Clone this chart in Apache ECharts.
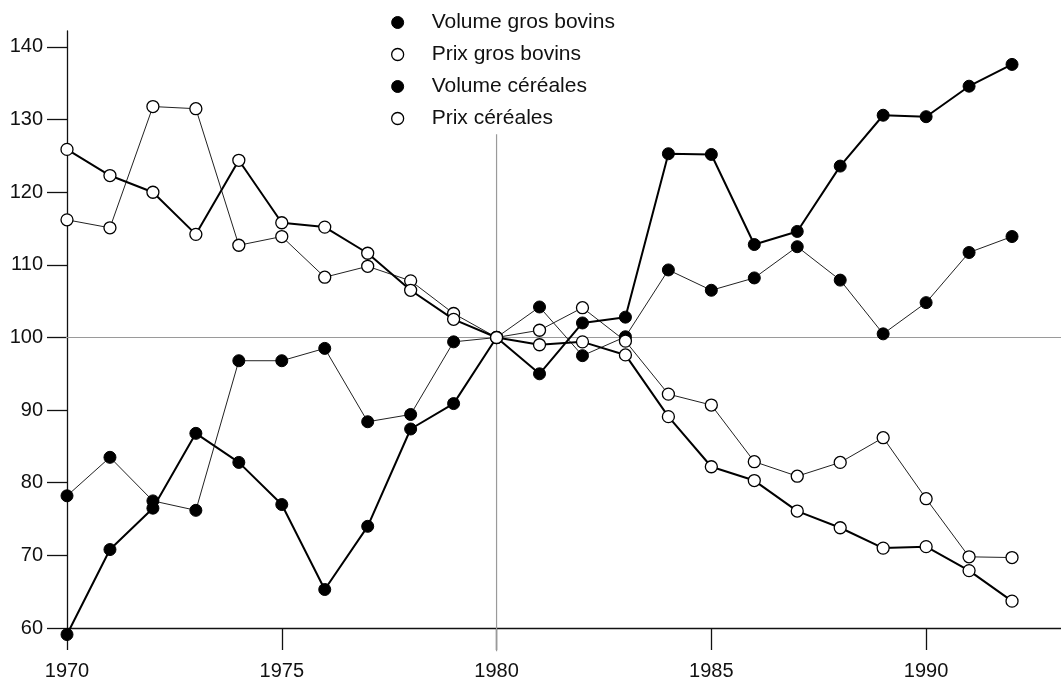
<!DOCTYPE html>
<html>
<head>
<meta charset="utf-8">
<script src="https://cdn.jsdelivr.net/npm/echarts@6/dist/echarts.min.js"></script>
<style>
  html, body { margin: 0; padding: 0; background: #fff; }
  #chart { width: 1061px; height: 681px; }
</style>
</head>
<body>
<div id="chart"></div>
<script>
// années 1970 - 1992, indices base 100 en 1980
const years = [1970, 1971, 1972, 1973, 1974, 1975, 1976, 1977, 1978, 1979, 1980,
  1981, 1982, 1983, 1984, 1985, 1986, 1987, 1988, 1989, 1990, 1991, 1992];

const volumeBovins = [78.2, 83.5, 77.5, 76.2, 96.8, 96.8, 98.5, 88.4, 89.4, 99.4, 100,
  104.2, 97.5, 100.1, 109.3, 106.5, 108.2, 112.5, 107.9, 100.5, 104.8, 111.7, 113.9];
const prixBovins = [116.2, 115.1, 131.8, 131.5, 112.7, 113.9, 108.3, 109.8, 107.8, 103.3, 100,
  101.0, 104.1, 99.5, 92.2, 90.7, 82.9, 80.9, 82.8, 86.2, 77.8, 69.8, 69.7];
const volumeCereales = [59.1, 70.8, 76.5, 86.8, 82.8, 77.0, 65.3, 74.0, 87.4, 90.9, 100,
  95.0, 102.0, 102.8, 125.3, 125.2, 112.8, 114.6, 123.6, 130.6, 130.4, 134.6, 137.6];
const prixCereales = [125.9, 122.3, 120.0, 114.2, 124.4, 115.8, 115.2, 111.6, 106.5, 102.5, 100,
  99.0, 99.4, 97.6, 89.1, 82.2, 80.3, 76.1, 73.8, 71.0, 71.2, 67.9, 63.7];

const xTicks = [1970, 1975, 1980, 1985, 1990];
const yTicks = [60, 70, 80, 90, 100, 110, 120, 130, 140];

// lignes de référence (année 1980, indice 100)
const refYear = [[1980, 128], [1980, 56.8]];
const refIndex = [[1969.53, 100], [1993.14, 100]];

const FONT = "'Liberation Sans', Arial, Helvetica, sans-serif";
const pairs = (vals) => years.map((y, i) => [y, vals[i]]);

const filled = { color: '#000', borderColor: '#000', borderWidth: 1 };
const open = { color: '#fff', borderColor: '#000', borderWidth: 1.3 };

function serie(name, vals, style, width, z) {
  return {
    name: name,
    type: 'line',
    data: pairs(vals),
    symbol: 'circle',
    symbolSize: 12,
    clip: false,
    z: z,
    lineStyle: { color: width > 1 ? '#000' : '#222', width: width },
    itemStyle: style,
    emphasis: { disabled: true }
  };
}

const chart = echarts.init(document.getElementById('chart'));
chart.setOption({
  animation: false,
  backgroundColor: '#fff',
  textStyle: { fontFamily: FONT },
  grid: { left: 67, right: 0, top: 31, bottom: 51 },
  legend: {
    orient: 'vertical',
    left: 386,
    top: 7,
    itemWidth: 58,
    itemHeight: 12,
    itemGap: 11,
    symbolKeepAspect: true,
    selectedMode: false,
    textStyle: { fontFamily: FONT, fontSize: 21, color: '#111', lineHeight: 21 },
    data: [
      { name: 'Volume gros bovins', icon: 'circle', itemStyle: filled },
      { name: 'Prix gros bovins', icon: 'circle', itemStyle: open },
      { name: 'Volume céréales', icon: 'circle', itemStyle: filled },
      { name: 'Prix céréales', icon: 'circle', itemStyle: open }
    ]
  },
  xAxis: {
    type: 'value',
    min: 1970,
    max: 1993.14,
    splitLine: { show: false },
    axisLine: { show: true, onZero: false, lineStyle: { color: '#111', width: 1.3 } },
    axisTick: { show: true, length: 22, customValues: xTicks, lineStyle: { color: '#111', width: 1.3 } },
    axisLabel: {
      customValues: xTicks,
      margin: 33,
      fontSize: 20,
      color: '#111',
      fontFamily: FONT,
      formatter: (v) => String(v)
    }
  },
  yAxis: {
    type: 'value',
    min: 60,
    max: 142.2,
    splitLine: { show: false },
    axisLine: { show: true, onZero: false, lineStyle: { color: '#111', width: 1.3 } },
    axisTick: { show: true, length: 20, customValues: yTicks, lineStyle: { color: '#111', width: 1.3 } },
    axisLabel: {
      customValues: yTicks,
      margin: 24,
      fontSize: 20,
      color: '#111',
      fontFamily: FONT
    }
  },
  series: [
    {
      name: 'ref-annee',
      type: 'line',
      data: refYear,
      symbol: 'none',
      clip: false,
      silent: true,
      z: 1,
      lineStyle: { color: '#9a9a9a', width: 1.2 }
    },
    {
      name: 'ref-indice',
      type: 'line',
      data: refIndex,
      symbol: 'none',
      clip: false,
      silent: true,
      z: 1,
      lineStyle: { color: '#9a9a9a', width: 1.2 }
    },
    serie('Volume gros bovins', volumeBovins, filled, 1, 2),
    serie('Prix gros bovins', prixBovins, open, 1, 2),
    serie('Volume céréales', volumeCereales, filled, 2, 3),
    serie('Prix céréales', prixCereales, open, 2, 3)
  ]
});
</script>
</body>
</html>
